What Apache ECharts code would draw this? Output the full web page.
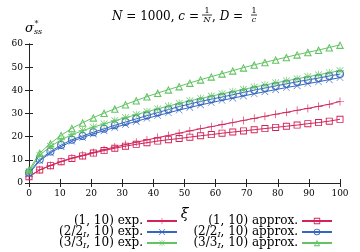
<!DOCTYPE html>
<html><head><meta charset="utf-8">
<script src="https://cdn.jsdelivr.net/npm/echarts@6/dist/echarts.min.js"></script>
<style>html,body{margin:0;padding:0;background:#fff}#c{width:360px;height:252px}</style>
</head><body><div id="c"></div>
<script>
const xi = [0, 3.45, 6.9, 10.34, 13.79, 17.24, 20.69, 24.14, 27.59, 31.03, 34.48, 37.93, 41.38, 44.83, 48.28, 51.72, 55.17, 58.62, 62.07, 65.52, 68.97, 72.41, 75.86, 79.31, 82.76, 86.21, 89.66, 93.1, 96.55, 100];
const xTicks = [0,10,20,30,40,50,60,70,80,90,100];
const yTicks = [0,10,20,30,40,50,60];

const red_exp = [2.8, 5.7, 7.6, 9.3, 10.8, 12.0, 13.2, 14.4, 15.5, 16.6, 17.6, 18.6, 19.6, 20.5, 21.5, 22.5, 23.4, 24.3, 25.2, 26.1, 27.0, 27.9, 28.8, 29.7, 30.5, 31.4, 32.2, 33.1, 34.0, 35.2];
const blue_exp = [4.0, 9.6, 13.0, 15.7, 18.0, 19.6, 21.2, 22.6, 24.0, 25.3, 26.6, 27.9, 29.1, 30.3, 31.5, 32.6, 33.7, 34.7, 35.7, 36.6, 37.6, 38.5, 39.4, 40.3, 41.2, 42.0, 42.9, 43.7, 44.6, 45.5];
const green_exp = [5.0, 12.0, 15.8, 18.6, 20.9, 22.6, 24.1, 25.5, 26.9, 28.2, 29.5, 30.8, 32.0, 33.2, 34.4, 35.5, 36.5, 37.5, 38.5, 39.4, 40.4, 41.4, 42.3, 43.2, 44.1, 45.0, 45.9, 46.7, 47.6, 48.5];
const red_approx = [2.7, 5.6, 7.5, 9.2, 10.6, 11.7, 12.9, 14.0, 15.0, 15.9, 16.7, 17.4, 18.1, 18.7, 19.2, 19.8, 20.4, 20.9, 21.5, 22.0, 22.5, 23.0, 23.5, 24.0, 24.5, 25.0, 25.6, 26.1, 26.7, 27.5];
const blue_approx = [4.5, 10.1, 13.6, 16.4, 18.7, 20.3, 21.9, 23.4, 24.9, 26.3, 27.7, 29.1, 30.4, 31.7, 33.0, 34.1, 35.2, 36.2, 37.1, 38.1, 39.1, 40.1, 41.0, 41.9, 42.8, 43.7, 44.5, 45.3, 46.2, 47.0];
const green_approx = [5.7, 12.9, 17.1, 20.6, 23.6, 26.0, 28.2, 30.2, 32.0, 33.9, 35.6, 37.3, 38.8, 40.3, 41.7, 43.2, 44.6, 45.9, 47.2, 48.5, 49.8, 51.0, 52.1, 53.2, 54.3, 55.4, 56.4, 57.4, 58.5, 59.6];

const names = ['(1, 10) exp.', '(2/2_I, 10) exp.', '(3/3_I, 10) exp.', '(1, 10) approx.', '(2/2_I, 10) approx.', '(3/3_I, 10) approx.'];

const RED = '#d3245a', BLUE = '#3566c0', GREEN = '#62c462';
const FONT = 'DejaVu Serif';
const PLUS = 'path://M9.2,0H10.8V9.2H20V10.8H10.8V20H9.2V10.8H0V9.2H9.2Z';
const CROSS = 'path://M0,1.1L1.1,0L20,18.9L18.9,20ZM18.9,0L20,1.1L1.1,20L0,18.9Z';
const STAR = 'path://M9.2,0H10.8V9.2H20V10.8H10.8V20H9.2V10.8H0V9.2H9.2ZM2.2,1.1L18.9,17.8L17.8,18.9L1.1,2.2ZM17.8,1.1L18.9,2.2L2.2,18.9L1.1,17.8Z';
const SQUARE = 'path://M0,0H20V20H0ZM2.6,2.6V17.4H17.4V2.6Z';
const CIRCLE = 'path://M10,0A10,10 0 1 1 10,20A10,10 0 1 1 10,0ZM10,2.4A7.6,7.6 0 1 0 10,17.6A7.6,7.6 0 1 0 10,2.4Z';
const TRI = 'path://M10,0L20,18L0,18ZM10,5.2L4.3,15.6L15.7,15.6Z';

function pairs(ys){ return xi.map((x,i)=>[x, ys[i]]); }
function mk(name, ys, color, symbol, size){
  return {name, type:'line', data:pairs(ys), symbol, symbolSize:size,
    showAllSymbol:true, animation:false,
    lineStyle:{color, width:1}, itemStyle:{color, borderColor:color, borderWidth:0}};
}
const series = [
  mk(names[0], red_exp, RED, PLUS, 8),
  mk(names[3], red_approx, RED, SQUARE, 7),
  mk(names[1], blue_exp, BLUE, CROSS, 7),
  mk(names[4], blue_approx, BLUE, CIRCLE, 8),
  mk(names[2], green_exp, GREEN, STAR, 8),
  mk(names[5], green_approx, GREEN, TRI, 8),
];

const legendPos = [
  {name:names[0], right:182, top:215},
  {name:names[1], right:182, top:226},
  {name:names[2], right:182, top:237},
  {name:names[3], right:27, top:215},
  {name:names[4], right:27, top:226},
  {name:names[5], right:27, top:237},
];
const legends = legendPos.map(p=>({
  data:[p.name], right:p.right, top:p.top, orient:'horizontal', align:'right',
  itemWidth:30, itemHeight:8, itemGap:0, padding:0, selectedMode:false,
  formatter:n=>n.replace('_I','{s|I}'),
  textStyle:{fontFamily:FONT, fontSize:12, color:'#000', padding:[0,-1,0,0],
    rich:{s:{fontFamily:FONT, fontSize:8, fontStyle:'italic', color:'#000', padding:[6,0,0,0]}}}
}));

const axisCommon = {
  axisLine:{show:true, lineStyle:{color:'#222', width:1}},
  axisTick:{show:true, inside:true, length:4, lineStyle:{color:'#222'}},
  splitLine:{show:false},
};
const option = {
  backgroundColor:'#fff',
  animation:false,
  grid:{left:29, right:20, top:44, bottom:69},
  legend: legends,
  xAxis:[
    Object.assign({type:'value', min:xTicks[0], max:xTicks[xTicks.length-1], interval:xTicks[1]-xTicks[0],
      name:'ξ', nameLocation:'middle', nameGap:24,
      nameTextStyle:{fontFamily:FONT, fontSize:14, fontStyle:'italic', color:'#000'},
      axisLabel:{fontFamily:FONT, fontSize:9, color:'#000', margin:6}}, axisCommon),
    Object.assign({type:'value', position:'top', min:xTicks[0], max:xTicks[xTicks.length-1], interval:xTicks[1]-xTicks[0],
      axisLabel:{show:false}}, axisCommon)
  ],
  yAxis:[
    Object.assign({type:'value', min:yTicks[0], max:yTicks[yTicks.length-1], interval:yTicks[1]-yTicks[0],
      axisLabel:{fontFamily:FONT, fontSize:9, color:'#000', margin:6}}, axisCommon),
    Object.assign({type:'value', position:'right', min:yTicks[0], max:yTicks[yTicks.length-1], interval:yTicks[1]-yTicks[0],
      axisLabel:{show:false}}, axisCommon)
  ],
  graphic:[
    {type:'text', x:112, y:16.5, style:{text:'{i|N} = 1000, {i|c} =', font:'12px "DejaVu Serif"', fill:'#000', textVerticalAlign:'middle',
      rich:{i:{fontFamily:FONT, fontSize:12, fontStyle:'italic'}}}},
    {type:'text', x:207, y:10.5, style:{text:'1', font:'8px "DejaVu Serif"', fill:'#000', textAlign:'center', textVerticalAlign:'middle'}},
    {type:'line', shape:{x1:202, y1:15, x2:212, y2:15}, style:{stroke:'#000', lineWidth:0.8}},
    {type:'text', x:207, y:19.5, style:{text:'N', font:'italic 8px "DejaVu Serif"', fill:'#000', textAlign:'center', textVerticalAlign:'middle'}},
    {type:'text', x:212, y:16.5, style:{text:', {i|D} =', font:'12px "DejaVu Serif"', fill:'#000', textVerticalAlign:'middle',
      rich:{i:{fontFamily:FONT, fontSize:12, fontStyle:'italic'}}}},
    {type:'text', x:254, y:10.5, style:{text:'1', font:'8px "DejaVu Serif"', fill:'#000', textAlign:'center', textVerticalAlign:'middle'}},
    {type:'line', shape:{x1:251, y1:15, x2:257, y2:15}, style:{stroke:'#000', lineWidth:0.8}},
    {type:'text', x:254, y:19.5, style:{text:'c', font:'italic 8px "DejaVu Serif"', fill:'#000', textAlign:'center', textVerticalAlign:'middle'}},
    {type:'text', x:25, y:28.5, style:{text:'σ', font:'italic 13px "DejaVu Serif"', fill:'#000', textVerticalAlign:'middle'}},
    {type:'text', x:34.5, y:23.5, style:{text:'*', font:'8px "DejaVu Serif"', fill:'#000', textVerticalAlign:'middle'}},
    {type:'text', x:34, y:31.5, style:{text:'ss', font:'italic 8px "DejaVu Serif"', fill:'#000', textVerticalAlign:'middle'}},
  ],
  series
};
const chart = echarts.init(document.getElementById('c'), null, {renderer:'canvas'});
chart.setOption(option);
</script></body></html>
